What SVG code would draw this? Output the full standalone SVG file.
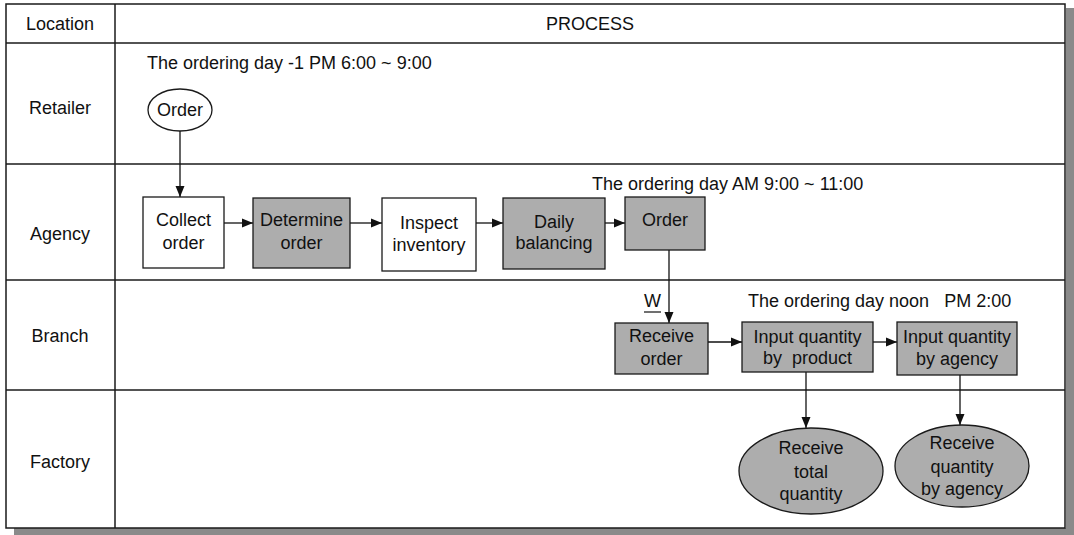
<svg xmlns="http://www.w3.org/2000/svg" width="1074" height="535" viewBox="0 0 1074 535">
<style>
text{font-family:"Liberation Sans",Arial,sans-serif;font-size:18px;fill:#111;}
.c{text-anchor:middle;}
.grid{stroke:#1a1a1a;stroke-width:1.5;fill:none;}
.box{stroke:#1a1a1a;stroke-width:1.3;fill:#fff;}
.sh{stroke:#1a1a1a;stroke-width:1.3;fill:#adadad;}
.con{stroke:#111;stroke-width:1.3;fill:none;marker-end:url(#ah);}
</style>
<defs>
<marker id="ah" viewBox="0 0 11 10" refX="11" refY="5" markerWidth="11" markerHeight="10" markerUnits="userSpaceOnUse" orient="auto">
<path d="M0,0.5 L11,5 L0,9.5 z" fill="#111"/>
</marker>
</defs>
<rect x="0" y="0" width="1074" height="535" fill="#fff"/>
<g id="shadow">
<rect x="1066" y="8" width="8" height="527" fill="#8a8a8a"/>
<rect x="14" y="528" width="1060" height="7" fill="#8a8a8a"/>
</g>
<g id="table">
<rect class="grid" x="6" y="4" width="1059" height="524"/>
<line class="grid" x1="115" y1="4" x2="115" y2="528"/>
<line class="grid" x1="6" y1="43" x2="1065" y2="43"/>
<line class="grid" x1="6" y1="164" x2="1065" y2="164"/>
<line class="grid" x1="6" y1="280" x2="1065" y2="280"/>
<line class="grid" x1="6" y1="390" x2="1065" y2="390"/>
<text class="c" x="60" y="30">Location</text>
<text class="c" x="590" y="30">PROCESS</text>
<text class="c" x="60" y="114">Retailer</text>
<text class="c" x="60" y="240">Agency</text>
<text class="c" x="60" y="342">Branch</text>
<text class="c" x="60" y="468">Factory</text>
<text x="147" y="69">The ordering day -1 PM 6:00 ~ 9:00</text>
<text x="592" y="190">The ordering day AM 9:00 ~ 11:00</text>
<text x="748" y="307" style="white-space:pre">The ordering day noon   PM 2:00</text>
</g>
<g id="connectors">
<line class="con" x1="180" y1="131" x2="180" y2="197"/>
<line class="con" x1="224" y1="223" x2="253" y2="223"/>
<line class="con" x1="350" y1="223" x2="382" y2="223"/>
<line class="con" x1="476" y1="223" x2="503" y2="223"/>
<line class="con" x1="605" y1="223" x2="625" y2="223"/>
<line class="con" x1="669" y1="250" x2="669" y2="323"/>
<line class="con" x1="708" y1="342" x2="742" y2="342"/>
<line class="con" x1="873" y1="342" x2="897" y2="342"/>
<line class="con" x1="806" y1="372" x2="806" y2="428"/>
<line class="con" x1="960" y1="375" x2="960" y2="425"/>
<text x="644" y="307">W</text>
<line x1="644" y1="312" x2="661" y2="312" stroke="#111" stroke-width="1.2"/>
</g>
<g id="n-order-retailer">
<ellipse class="box" cx="180" cy="110" rx="32" ry="21"/>
<text class="c" x="180" y="116">Order</text>
</g>
<g id="n-collect">
<rect class="box" x="143" y="197" width="81" height="71"/>
<text class="c" x="183.5" y="226">Collect</text>
<text class="c" x="183.5" y="249">order</text>
</g>
<g id="n-determine">
<rect class="sh" x="253" y="198" width="97" height="70"/>
<text class="c" x="301.5" y="226">Determine</text>
<text class="c" x="301.5" y="249">order</text>
</g>
<g id="n-inspect">
<rect class="box" x="382" y="198" width="94" height="73"/>
<text class="c" x="429" y="229">Inspect</text>
<text class="c" x="429" y="251">inventory</text>
</g>
<g id="n-daily">
<rect class="sh" x="503" y="198" width="102" height="71"/>
<text class="c" x="554" y="228">Daily</text>
<text class="c" x="554" y="249">balancing</text>
</g>
<g id="n-order-agency">
<rect class="sh" x="625" y="197" width="80" height="53"/>
<text class="c" x="665" y="226">Order</text>
</g>
<g id="n-receive-order">
<rect class="sh" x="615" y="323" width="93" height="51"/>
<text class="c" x="661.5" y="342">Receive</text>
<text class="c" x="661.5" y="365">order</text>
</g>
<g id="n-input-product">
<rect class="sh" x="742" y="322" width="131" height="50"/>
<text class="c" x="807.5" y="343">Input quantity</text>
<text class="c" x="807.5" y="364" style="white-space:pre">by  product</text>
</g>
<g id="n-input-agency">
<rect class="sh" x="897" y="322" width="120" height="53"/>
<text class="c" x="957" y="343">Input quantity</text>
<text class="c" x="957" y="365">by agency</text>
</g>
<g id="n-receive-total">
<ellipse class="sh" cx="811" cy="471" rx="72" ry="43"/>
<text class="c" x="811" y="454">Receive</text>
<text class="c" x="811" y="478">total</text>
<text class="c" x="811" y="500">quantity</text>
</g>
<g id="n-receive-agency">
<ellipse class="sh" cx="962" cy="466" rx="67" ry="41"/>
<text class="c" x="962" y="449">Receive</text>
<text class="c" x="962" y="473">quantity</text>
<text class="c" x="962" y="495">by agency</text>
</g>
</svg>
